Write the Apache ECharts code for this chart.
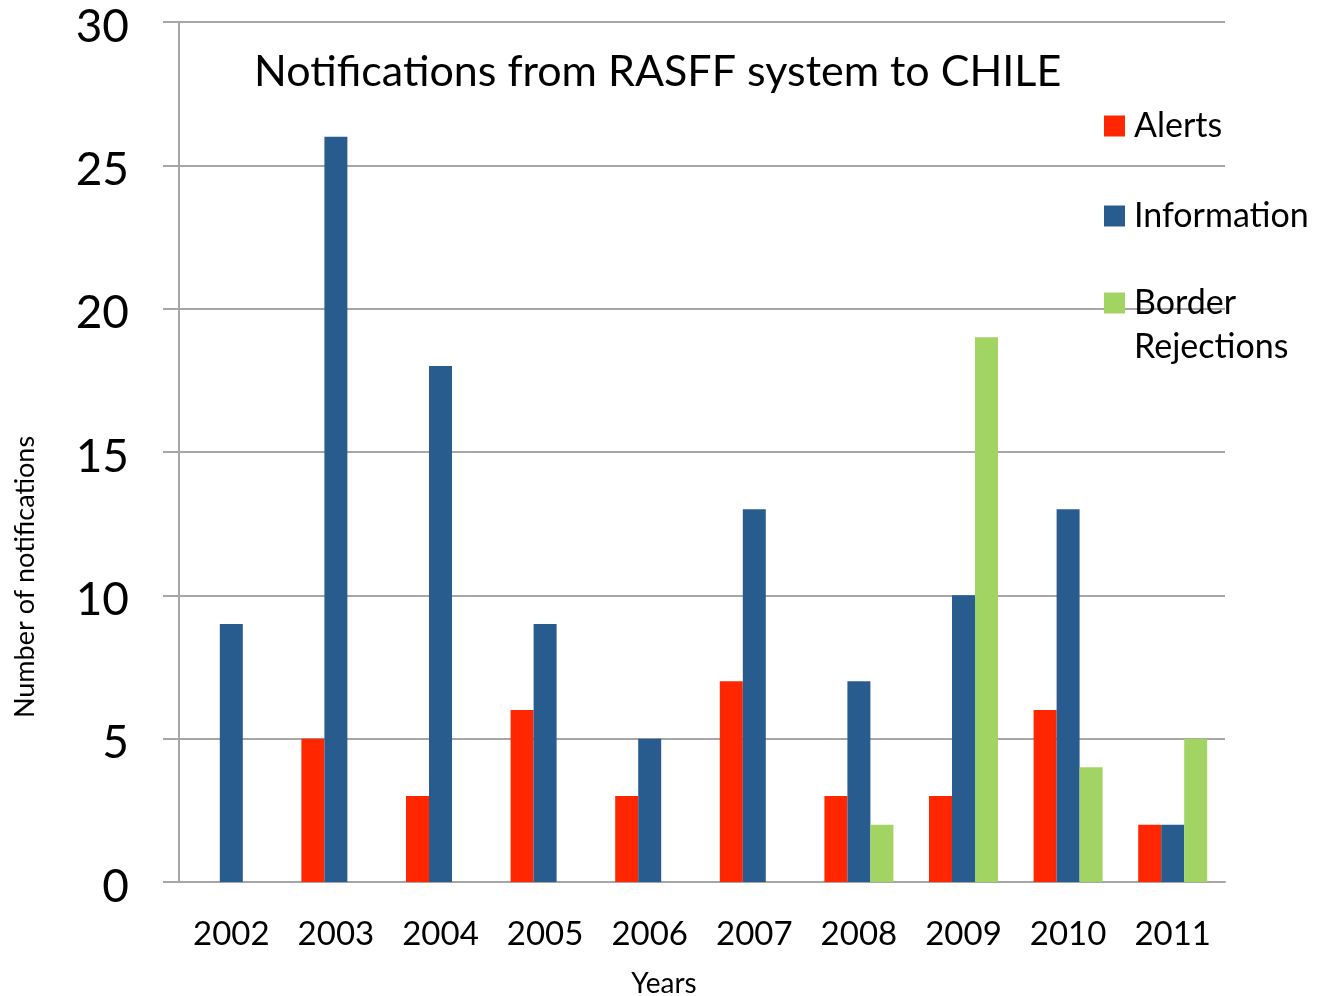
<!DOCTYPE html>
<html>
  <head>
    <meta http-equiv="Content-Type" content="text/html; charset=utf-8" />
    <title>RASFF notifications to Chile</title>
    <script src="https://cdn.jsdelivr.net/npm/echarts@6/dist/echarts.min.js"></script>
    <style>
      html, body { margin: 0; padding: 0; background: #fff; }
      #bar { width: 1326px; height: 996px; }
    </style>
  </head>
  <body>
    <div id="bar"></div>
    <script>
      // data
      var years = ['2002', '2003', '2004', '2005', '2006', '2007', '2008', '2009', '2010', '2011'];
      var alerts = [0, 5, 3, 6, 3, 7, 3, 3, 6, 2];
      var information = [9, 26, 18, 9, 5, 13, 7, 10, 13, 2];
      var borderRejections = [0, 0, 0, 0, 0, 0, 2, 19, 4, 5];
      var yTicks = [0, 5, 10, 15, 20, 25, 30];

      var FONT = 'Lato, "Open Sans", sans-serif';
      var GRAY = '#a6a6a6';

      var myChart1;
      window.onload = function () {
        myChart1 = echarts.init(document.getElementById('bar'));
        SetOptions();
      }

      function SetOptions() {
        var legendText = { fontFamily: FONT, fontSize: 34, color: '#000', lineHeight: 44, padding: [0, 0, 0, 4] };
        var option = {
          animation: false,
          color: ['#ff2600', '#285c8f', '#a2d463'],
          title: {
            text: 'Notifications from RASFF system to CHILE',
            left: 249,
            top: 46,
            textStyle: { fontFamily: FONT, fontSize: 43, fontWeight: 'normal', color: '#000' }
          },
          legend: [
            {
              orient: 'vertical', left: 1104, top: 104, itemGap: 46, padding: 0,
              itemWidth: 21, itemHeight: 21, icon: 'rect',
              data: ['Alerts', 'Information'],
              textStyle: legendText
            },
            {
              // empty first line keeps the icon level with "Border"
              orient: 'vertical', left: 1104, top: 237, padding: 0,
              itemWidth: 21, itemHeight: 21, icon: 'rect',
              data: ['Border Rejections'],
              formatter: function (name) { return '\n' + name.replace(' ', '\n'); },
              textStyle: legendText
            }
          ],
          grid: { left: 179, right: 101, top: 22, bottom: 114 },
          xAxis: {
            type: 'category',
            data: years,
            axisLine: { lineStyle: { color: GRAY, width: 2 } },
            axisTick: { length: 11, lineStyle: { color: GRAY, width: 2 } },
            axisLabel: { margin: 36, fontFamily: FONT, fontSize: 33, color: '#000' }
          },
          yAxis: {
            type: 'value',
            min: yTicks[0],
            max: yTicks[yTicks.length - 1],
            interval: 5,
            axisLine: { show: true, lineStyle: { color: GRAY, width: 2 } },
            axisTick: { show: true, length: 16, lineStyle: { color: GRAY, width: 2 } },
            splitLine: { lineStyle: { color: GRAY, width: 2 } },
            axisLabel: {
              margin: 50, fontFamily: FONT, fontSize: 46, color: '#000',
              verticalAlign: 'top', lineHeight: 10
            }
          },
          graphic: [
            {
              type: 'text', x: 664, y: 984,
              style: { text: 'Years', font: '28px ' + FONT, fill: '#000', align: 'center', verticalAlign: 'middle' }
            },
            {
              type: 'text', x: 25, y: 577, rotation: Math.PI / 2,
              style: { text: 'Number of notifications', font: '27px ' + FONT, fill: '#000', align: 'center', verticalAlign: 'middle' }
            }
          ],
          series: [
            { name: 'Alerts', type: 'bar', barWidth: 23, barGap: '0%', data: alerts },
            { name: 'Information', type: 'bar', barWidth: 23, barGap: '0%', data: information },
            { name: 'Border Rejections', type: 'bar', barWidth: 23, barGap: '0%', data: borderRejections }
          ]
        };
        myChart1.setOption(option);
      }
    </script>
  </body>
</html>
